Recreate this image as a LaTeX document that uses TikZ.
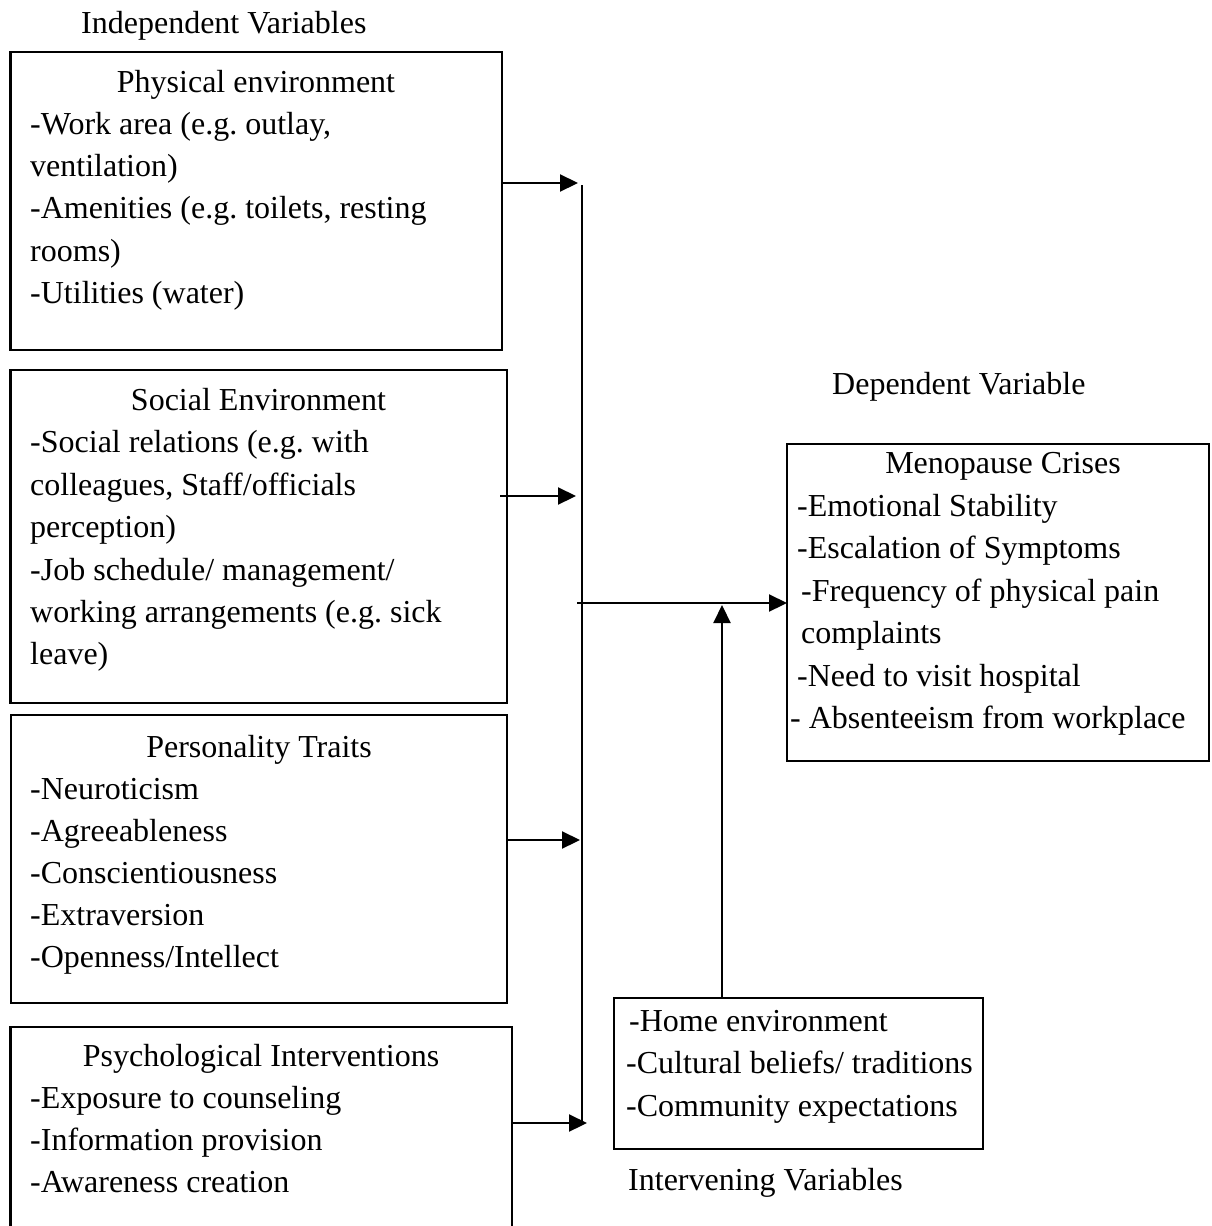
\documentclass[tikz,border=0pt]{standalone}
\usepackage{fontspec}
\setmainfont{Liberation Serif}
\usetikzlibrary{arrows.meta}
\frenchspacing
\begin{document}
\begin{tikzpicture}[x=1pt,y=-1pt,
  box/.style={draw,line width=2.2pt,anchor=north west,inner sep=0pt,outer sep=0pt},
  txt/.style={anchor=base west,inner sep=0pt,font=\fontsize{32}{40}\selectfont},
  ttl/.style={anchor=base,inner sep=0pt,font=\fontsize{32}{40}\selectfont},
  arr/.style={line width=2.2pt,-{Triangle[length=18pt,width=17pt]}},
  ln/.style={line width=2.2pt}]
\useasboundingbox (0,0) rectangle (1211,1226);
\clip (0,0) rectangle (1211,1226);
% labels
\node[txt] (lind) at (81,33) {Independent Variables};
\node[txt] (ldep) at (832,394) {Dependent Variable};
\node[txt] (lint) at (628,1190) {Intervening Variables};
% boxes
\node[box,minimum width=491.5pt,minimum height=298pt] (b1) at (10.5,52) {};
\node[box,minimum width=496.5pt,minimum height=333pt] (b2) at (10.5,370) {};
\node[box,minimum width=496pt,minimum height=288pt] (b3) at (11,715) {};
\node[box,minimum width=501.5pt,minimum height=240pt] (b4) at (10.5,1027) {};
\node[box,minimum width=422pt,minimum height=317pt] (dep) at (787,444) {};
\node[box,minimum width=369pt,minimum height=151pt] (int) at (614,998) {};
% box 1 text
\node[ttl] (t1) at (256,92) {Physical environment};
\node[txt] (t1a) at (30,134) {-Work area (e.g. outlay,};
\node[txt] (t1b) at (30,176) {ventilation)};
\node[txt] (t1c) at (30,218) {-Amenities (e.g. toilets, resting};
\node[txt] (t1d) at (30,261) {rooms)};
\node[txt] (t1e) at (30,303) {-Utilities (water)};
% box 2 text
\node[ttl] (t2) at (258.5,410) {Social Environment};
\node[txt] (t2a) at (30,452) {-Social relations (e.g. with};
\node[txt] (t2b) at (30,495) {colleagues, Staff/officials};
\node[txt] (t2c) at (30,537) {perception)};
\node[txt] (t2d) at (30,580) {-Job schedule/ management/};
\node[txt] (t2e) at (30,622) {working arrangements (e.g. sick};
\node[txt] (t2f) at (30,664) {leave)};
% box 3 text
\node[ttl] (t3) at (259,757) {Personality Traits};
\node[txt] (t3a) at (30,799) {-Neuroticism};
\node[txt] (t3b) at (30,841) {-Agreeableness};
\node[txt] (t3c) at (30,883) {-Conscientiousness};
\node[txt] (t3d) at (30,925) {-Extraversion};
\node[txt] (t3e) at (30,967) {-Openness/Intellect};
% box 4 text
\node[ttl] (t4) at (261,1066) {Psychological Interventions};
\node[txt] (t4a) at (30,1108) {-Exposure to counseling};
\node[txt] (t4b) at (30,1150) {-Information provision};
\node[txt] (t4c) at (30,1192) {-Awareness creation};
% dependent text
\node[ttl] (td) at (1003,473) {Menopause Crises};
\node[txt] (tda) at (797,516) {-Emotional Stability};
\node[txt] (tdb) at (797,558) {-Escalation of Symptoms};
\node[txt] (tdc) at (801,601) {-Frequency of physical pain};
\node[txt] (tdd) at (801,643) {complaints};
\node[txt] (tde) at (797,686) {-Need to visit hospital};
\node[txt] (tdf) at (790,728) {- Absenteeism from workplace};
% intervening text
\node[txt] (tia) at (629,1031) {-Home environment};
\node[txt] (tib) at (626,1073) {-Cultural beliefs/ traditions};
\node[txt] (tic) at (626,1116) {-Community expectations};
% connectors
\coordinate (vtop) at (582,185);
\coordinate (vbot) at (582,1124);
\coordinate (a1) at (578,183);
\coordinate (a2s) at (500,496);
\coordinate (a2) at (576,496);
\coordinate (a3) at (580,840);
\coordinate (a4) at (587,1123);
\coordinate (hs) at (577,603);
\coordinate (up) at (722,605);
\draw[ln] (vtop) -- (vbot);
\draw[arr] (b1.east |- a1) -- (a1);
\draw[arr] (a2s) -- (a2);
\draw[arr] (b3.east |- a3) -- (a3);
\draw[arr] (b4.east |- a4) -- (a4);
\draw[arr] (hs) -- (dep.west |- hs);
\draw[arr] (int.north -| up) -- (up);
\end{tikzpicture}
\end{document}
